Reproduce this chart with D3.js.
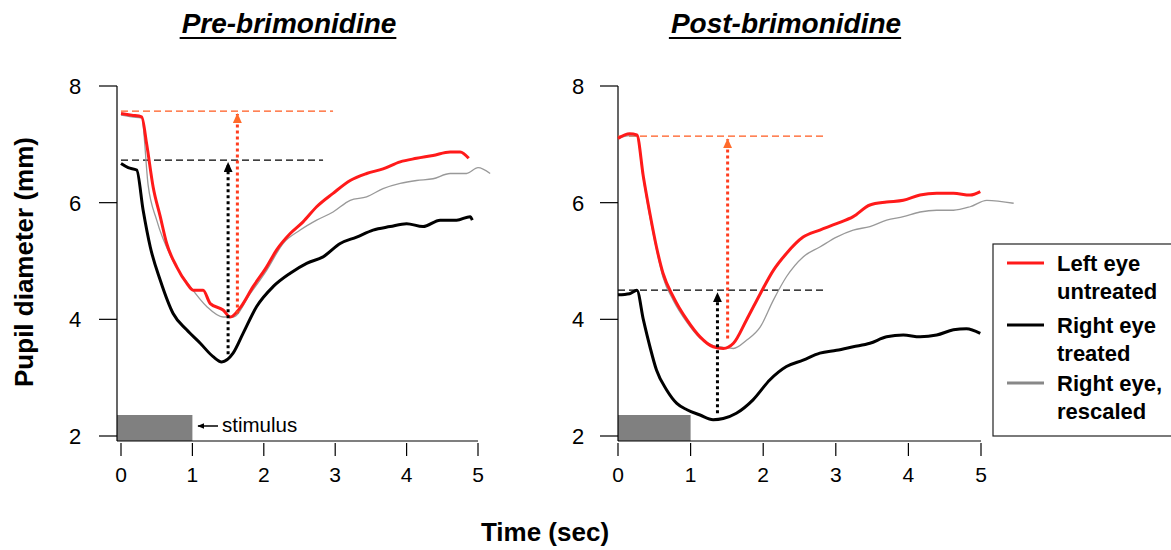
<!DOCTYPE html>
<html>
<head>
<meta charset="utf-8">
<script src="https://cdn.jsdelivr.net/npm/d3@7"></script>
<style>
  body { margin: 0; background: #fff; }
  svg { display: block; font-family: "Liberation Sans", Arial, sans-serif; }
</style>
</head>
<body>
<div id="chart"></div>
<script>
// Data: [time (s), pupil diameter (mm)]
const preLeft = [[0,7.53],[0.15,7.5],[0.29,7.47],[0.36,7.0],[0.45,6.27],[0.55,5.76],[0.64,5.3],[0.78,4.9],[0.92,4.62],[1.01,4.5],[1.15,4.5],[1.25,4.27],[1.43,4.16],[1.53,4.04],[1.67,4.2],[1.85,4.56],[2.04,4.9],[2.18,5.19],[2.37,5.47],[2.55,5.67],[2.74,5.93],[2.97,6.16],[3.21,6.38],[3.44,6.5],[3.67,6.58],[3.91,6.7],[4.14,6.76],[4.37,6.81],[4.61,6.87],[4.75,6.87],[4.87,6.76]];
const preRight = [[0,6.67],[0.1,6.6],[0.22,6.56],[0.31,5.87],[0.41,5.24],[0.55,4.67],[0.73,4.1],[0.92,3.82],[1.11,3.59],[1.29,3.36],[1.41,3.27],[1.57,3.42],[1.71,3.76],[1.9,4.22],[2.13,4.56],[2.37,4.79],[2.6,4.96],[2.83,5.07],[3.07,5.3],[3.3,5.41],[3.53,5.53],[3.77,5.59],[4.0,5.64],[4.23,5.59],[4.47,5.7],[4.7,5.7],[4.89,5.76],[4.92,5.7]];
const preRescaled = [[0,7.5],[0.15,7.47],[0.29,7.45],[0.38,6.3],[0.5,5.7],[0.73,5.0],[0.97,4.56],[1.2,4.22],[1.43,4.04],[1.57,4.04],[1.81,4.44],[2.04,4.84],[2.27,5.3],[2.51,5.53],[2.74,5.7],[2.97,5.84],[3.21,6.04],[3.44,6.1],[3.67,6.24],[3.91,6.33],[4.14,6.38],[4.37,6.41],[4.61,6.5],[4.84,6.5],[5.0,6.6],[5.17,6.5]];
const postLeft = [[0,7.1],[0.16,7.18],[0.26,7.16],[0.35,6.44],[0.44,5.81],[0.53,5.24],[0.62,4.79],[0.76,4.39],[0.95,3.99],[1.13,3.7],[1.31,3.53],[1.45,3.5],[1.59,3.59],[1.77,3.99],[1.96,4.44],[2.14,4.84],[2.32,5.13],[2.55,5.41],[2.78,5.53],[3.01,5.64],[3.24,5.76],[3.47,5.96],[3.7,6.01],[3.93,6.04],[4.16,6.13],[4.39,6.16],[4.62,6.16],[4.85,6.13],[4.99,6.19]];
const postRight = [[0,4.42],[0.16,4.44],[0.26,4.5],[0.35,3.99],[0.44,3.53],[0.53,3.13],[0.67,2.79],[0.81,2.56],[0.95,2.45],[1.13,2.36],[1.31,2.28],[1.45,2.3],[1.63,2.39],[1.86,2.62],[2.09,2.96],[2.32,3.19],[2.55,3.3],[2.78,3.42],[3.01,3.47],[3.24,3.53],[3.47,3.59],[3.7,3.7],[3.93,3.73],[4.16,3.7],[4.39,3.73],[4.62,3.82],[4.8,3.84],[4.99,3.76]];
const postRescaled = [[0,7.1],[0.16,7.15],[0.26,7.14],[0.35,6.4],[0.44,5.75],[0.53,5.2],[0.62,4.72],[0.76,4.33],[0.95,3.95],[1.13,3.68],[1.31,3.55],[1.45,3.52],[1.59,3.5],[1.77,3.64],[1.96,3.87],[2.14,4.33],[2.32,4.73],[2.55,5.07],[2.78,5.24],[3.01,5.41],[3.24,5.53],[3.47,5.59],[3.7,5.7],[3.93,5.76],[4.16,5.84],[4.39,5.87],[4.62,5.87],[4.85,5.93],[5.08,6.04],[5.45,5.99]];

// baseline (dashed) levels and arrow [time, from, to]
const preBaseline = { red: 7.57, black: 6.73, end: [2.97, 2.83] };
const postBaseline = { red: 7.14, black: 4.5, end: [2.85, 2.85] };
const preArrows = { black: [1.5, 3.4, 6.73], red: [1.63, 4.1, 7.57] };
const postArrows = { black: [1.37, 2.39, 4.5], red: [1.51, 3.67, 7.14] };

const xTicks = [0, 1, 2, 3, 4, 5];
const yTicks = [2, 4, 6, 8];
const stimulus = [0, 1];
const titles = ["Pre-brimonidine", "Post-brimonidine"];
const legendLabels = [["Left eye", "untreated"], ["Right eye", "treated"], ["Right eye,", "rescaled"]];
const colors = { red: "#ff1a1a", black: "#000", gray: "#999", dashRed: "#ff5a1f", dotRed: "#ff3d1f" };

const width = 1171, height = 550;
const svg = d3.select("#chart").append("svg").attr("width", width).attr("height", height);

svg.append("defs").selectAll("marker")
  .data([["headBlack", "#000", 10, 9], ["headRed", "#ff6a2a", 10, 9], ["headSmall", "#000", 7, 6]])
  .join("marker")
  .attr("id", d => d[0])
  .attr("viewBox", "0 0 10 10")
  .attr("refX", 9).attr("refY", 5)
  .attr("markerWidth", d => d[2]).attr("markerHeight", d => d[3])
  .attr("markerUnits", "userSpaceOnUse")
  .attr("preserveAspectRatio", "none")
  .attr("orient", "auto")
  .append("path")
  .attr("d", "M0,0 L10,5 L0,10 Z")
  .attr("fill", d => d[1]);

const panels = [
  { title: titles[0], x0: 121, x1: 478, axisX: 117, titleX: 289, left: preLeft, right: preRight, rescaled: preRescaled, base: preBaseline, arrows: preArrows, stim: true, lab: 42 },
  { title: titles[1], x0: 618, x1: 981, axisX: 618, titleX: 786, left: postLeft, right: postRight, rescaled: postRescaled, base: postBaseline, arrows: postArrows, stim: false, lab: 40 },
];

const yScale = d3.scaleLinear().domain([2, 8]).range([436, 86]);
const axisY = 441;

panels.forEach(p => {
  const xScale = d3.scaleLinear().domain([0, 5]).range([p.x0, p.x1]);
  const g = svg.append("g");

  // title with underline
  const t = g.append("text")
    .attr("x", p.titleX).attr("y", 33)
    .attr("text-anchor", "middle")
    .attr("font-size", 28).attr("font-weight", "bold").attr("font-style", "italic")
    .text(p.title);
  const tw = t.node().getComputedTextLength();
  g.append("line")
    .attr("x1", p.titleX - tw / 2 - 2).attr("x2", p.titleX + tw / 2)
    .attr("y1", 38).attr("y2", 38)
    .attr("stroke", "#000").attr("stroke-width", 2);

  // stimulus bar
  g.append("rect")
    .attr("x", p.axisX).attr("y", 415)
    .attr("width", xScale(stimulus[1]) - p.axisX).attr("height", axisY - 415)
    .attr("fill", "#808080");

  // axes
  g.append("line").attr("x1", p.axisX).attr("x2", p.axisX).attr("y1", yScale(8)).attr("y2", axisY)
    .attr("stroke", "#000").attr("stroke-width", 1.2);
  g.append("line").attr("x1", p.axisX).attr("x2", p.x1).attr("y1", axisY).attr("y2", axisY)
    .attr("stroke", "#000").attr("stroke-width", 1.2);
  yTicks.forEach(v => {
    g.append("line").attr("x1", p.axisX - 18).attr("x2", p.axisX).attr("y1", yScale(v)).attr("y2", yScale(v))
      .attr("stroke", "#000").attr("stroke-width", 1.2);
    g.append("text").attr("x", p.axisX - p.lab).attr("y", yScale(v) + 8)
      .attr("text-anchor", "middle").attr("font-size", 22).text(v);
  });
  xTicks.forEach(v => {
    g.append("line").attr("x1", xScale(v)).attr("x2", xScale(v)).attr("y1", axisY + 2).attr("y2", axisY + 15)
      .attr("stroke", "#000").attr("stroke-width", 1.2);
    g.append("text").attr("x", xScale(v)).attr("y", 482)
      .attr("text-anchor", "middle").attr("font-size", 21).text(v);
  });

  // baselines
  g.append("line").attr("x1", xScale(0)).attr("x2", xScale(p.base.end[0]))
    .attr("y1", yScale(p.base.red)).attr("y2", yScale(p.base.red))
    .attr("stroke", colors.dashRed).attr("stroke-width", 1.2).attr("stroke-dasharray", "7,4");
  g.append("line").attr("x1", xScale(0)).attr("x2", xScale(p.base.end[1]))
    .attr("y1", yScale(p.base.black)).attr("y2", yScale(p.base.black))
    .attr("stroke", "#000").attr("stroke-width", 1.2).attr("stroke-dasharray", "7,4");

  const line = d3.line().x(d => xScale(d[0])).y(d => yScale(d[1])).curve(d3.curveMonotoneX);
  g.append("path").attr("d", line(p.rescaled)).attr("fill", "none")
    .attr("stroke", colors.gray).attr("stroke-width", 1.3);
  g.append("path").attr("d", line(p.right)).attr("fill", "none")
    .attr("stroke", colors.black).attr("stroke-width", 3).attr("stroke-linejoin", "round");
  g.append("path").attr("d", line(p.left)).attr("fill", "none")
    .attr("stroke", colors.red).attr("stroke-width", 3).attr("stroke-linejoin", "round");

  // dotted arrows
  [["black", "#000", "headBlack"], ["red", colors.dotRed, "headRed"]].forEach(([k, c, m]) => {
    const a = p.arrows[k];
    g.append("line")
      .attr("x1", xScale(a[0])).attr("x2", xScale(a[0]))
      .attr("y1", yScale(a[1])).attr("y2", yScale(a[2]) + 3)
      .attr("stroke", c).attr("stroke-width", 3).attr("stroke-dasharray", "3,3")
      .attr("marker-end", `url(#${m})`);
  });

  if (p.stim) {
    g.append("line").attr("x1", 218).attr("x2", 198).attr("y1", 426).attr("y2", 426)
      .attr("stroke", "#000").attr("stroke-width", 1.5).attr("marker-end", "url(#headSmall)");
    g.append("text").attr("x", 222).attr("y", 432).attr("font-size", 20.5).text("stimulus");
  }
});

// axis titles
svg.append("text")
  .attr("transform", "translate(33,262) rotate(-90)")
  .attr("text-anchor", "middle").attr("font-size", 26).attr("font-weight", "bold")
  .text("Pupil diameter (mm)");
svg.append("text")
  .attr("x", 545).attr("y", 541)
  .attr("text-anchor", "middle").attr("font-size", 26).attr("font-weight", "bold")
  .text("Time (sec)");

// legend
const lg = svg.append("g");
lg.append("rect").attr("x", 993).attr("y", 244).attr("width", 200).attr("height", 192)
  .attr("fill", "#fff").attr("stroke", "#222").attr("stroke-width", 1.2);
const legendColors = [colors.red, colors.black, "#888"];
const legendY = [263, 325, 383];
legendLabels.forEach((lab, i) => {
  lg.append("line").attr("x1", 1007).attr("x2", 1044).attr("y1", legendY[i]).attr("y2", legendY[i])
    .attr("stroke", legendColors[i]).attr("stroke-width", 3);
  lab.forEach((s, j) => {
    lg.append("text").attr("x", 1057).attr("y", legendY[i] + 8 + j * 28)
      .attr("font-size", 22).attr("font-weight", "bold").text(s);
  });
});
</script>
</body>
</html>
